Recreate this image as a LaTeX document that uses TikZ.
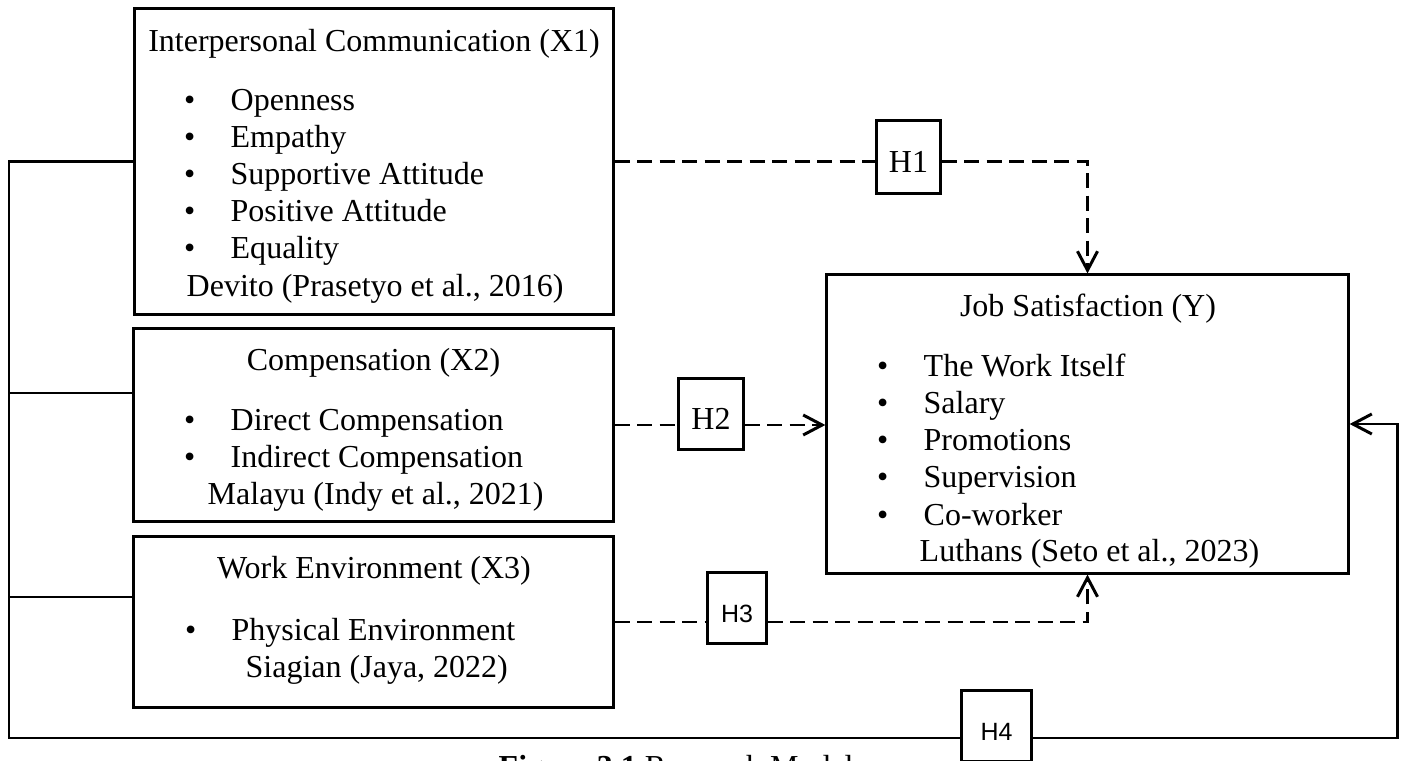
\documentclass[tikz,border=0pt]{standalone}
\usepackage{fontspec}
\setmainfont{Liberation Serif}
\newfontfamily\hsans{Liberation Sans}
\usetikzlibrary{arrows.meta,calc}
\newcommand{\bul}{\makebox[0.466cm][l]{\textbullet}}
\tikzset{
  varbox/.style={draw,line width=0.85pt,inner sep=0pt},
  hbox/.style={draw,line width=0.85pt,inner sep=0pt,fill=white,
    font=\fontsize{9.1}{10.5}\selectfont,text height=0.30cm,text depth=0cm},
  hboxsans/.style={hbox,font=\hsans\fontsize{7.1}{8.5}\selectfont,text height=0.28cm},
  txt/.style={inner sep=0pt,font=\fontsize{9.1}{10.5}\selectfont},
  link/.style={line width=0.85pt},
  hypline/.style={line width=0.85pt,dash pattern=on 4.3pt off 2.1pt},
  hyp/.style={hypline,-{Straight Barb[length=5.4pt,width=5.7pt]}},
}

\begin{document}
\begin{tikzpicture}[x=0.01cm,y=0.01cm]
  \useasboundingbox (0,0) rectangle (1405,760);
  % ---------- the four variable boxes ----------
  \node[varbox,minimum width=4.78cm,minimum height=3.05cm] (interp) at (374,598.5) {};
  \node[varbox,minimum width=4.79cm,minimum height=1.92cm] (comp) at (373.5,335) {};
  \node[varbox,minimum width=4.79cm,minimum height=1.70cm] (env) at (373.5,138) {};
  \node[varbox,minimum width=5.21cm,minimum height=2.98cm] (sat) at (1087.5,336) {};
  % ---------- X1 ----------
  \node[txt,anchor=base] (interp-title) at (374,708) {Interpersonal Communication (X1)};
  \foreach \lab [count=\i] in {Openness,Empathy,Supportive Attitude,Positive Attitude,Equality}
    \node[txt,anchor=base west] (interp-\i) at (183.4,{649-37*(\i-1)}) {\bul\lab};
  \node[txt,anchor=base west] (interp-src) at (186,463) {Devito (Prasetyo et al., 2016)};
  % ---------- X2 ----------
  \node[txt,anchor=base] (comp-title) at (373.5,389) {Compensation (X2)};
  \foreach \lab [count=\i] in {Direct Compensation,Indirect Compensation}
    \node[txt,anchor=base west] (comp-\i) at (183.4,{329-37*(\i-1)}) {\bul\lab};
  \node[txt,anchor=base west] (comp-src) at (207,255) {Malayu (Indy et al., 2021)};
  % ---------- X3 ----------
  \node[txt,anchor=base] (env-title) at (374,181) {Work Environment (X3)};
  \node[txt,anchor=base west] (env-1) at (184.4,120) {\bul Physical Environment};
  \node[txt,anchor=base west] (env-src) at (245,83) {Siagian (Jaya, 2022)};
  % ---------- Y ----------
  \node[txt,anchor=base] (sat-title) at (1088,443) {Job Satisfaction (Y)};
  \foreach \lab [count=\i] in {The Work Itself,Salary,Promotions,Supervision,Co-worker}
    \node[txt,anchor=base west] (sat-\i) at (876.4,{383-37*(\i-1)}) {\bul\lab};
  \node[txt,anchor=base west] (sat-src) at (919,198) {Luthans (Seto et al., 2023)};
  % ---------- hypothesis boxes ----------
  \node[hbox,minimum width=0.63cm,minimum height=0.72cm] (h1) at (908.5,603) {H1};
  \node[hbox,minimum width=0.64cm,minimum height=0.70cm] (h2) at (711,346) {H2};
  \node[hboxsans,minimum width=0.58cm,minimum height=0.70cm] (h3) at (737,152) {H3};
  \node[hboxsans,minimum width=0.69cm,minimum height=0.70cm] (h4) at (996.5,34) {H4};
  % ---------- left bracket and H4 ----------
  \coordinate (lefttop) at (9,598.5);
  \coordinate (leftbot) at (9,22);
  \coordinate (rightbot) at (1397,22);
  \coordinate (comp-tap) at (134,367);
  \coordinate (env-tap) at (134,163);
  \draw[link] (interp.west) -- (lefttop) -- (leftbot) -- (leftbot -| h4.west);
  \draw[link] (comp-tap) -- (comp-tap -| lefttop);
  \draw[link] (env-tap) -- (env-tap -| lefttop);
  \draw[link,-{Straight Barb[length=5.4pt,width=5.7pt]}]
    (h4.east |- rightbot) -- (rightbot) -- (rightbot |- sat.east) -- (sat.east);
  % ---------- dashed paths H1-H3 ----------
  \draw[hypline] (interp.east) -- (interp.east -| h1.west);
  \draw[hyp] (h1.east |- interp.east) -- (interp.east -| sat.north) -- (sat.north);
  \draw[hypline] (comp.east) -- (comp.east -| h2.west);
  \draw[hyp] (h2.east |- comp.east) -- (sat.west |- comp.east);
  \draw[hypline] (env.east) -- (env.east -| h3.west);
  \draw[hyp] (h3.east |- env.east) -- (env.east -| sat.south) -- (sat.south);
  % ---------- caption ----------
  \node[txt,anchor=base west] (caption) at (498,-18) {\textbf{Figure 3.1} Research Model};
\end{tikzpicture}
\end{document}
